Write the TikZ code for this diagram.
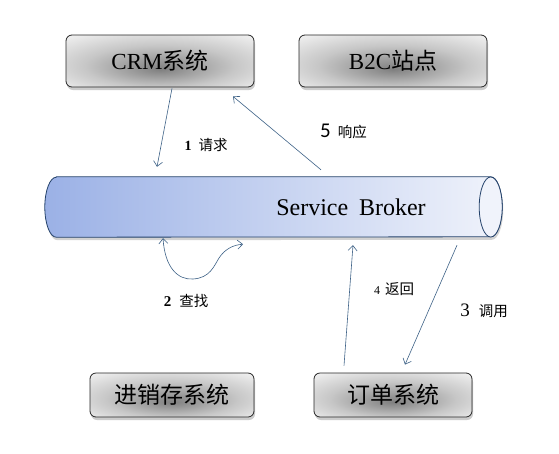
\documentclass[tikz,border=0pt]{standalone}
\usepackage{fontspec}
\setmainfont{Liberation Serif}
\newfontfamily\cjk{Noto Sans CJK SC}
\newfontfamily\numsans{Carlito}
\usetikzlibrary{arrows.meta, shadows}

\definecolor{linkblue}{HTML}{3E6287}
\definecolor{pipeleft}{HTML}{9BB1E6}
\definecolor{piperight}{HTML}{F0F3FB}
\definecolor{pipeedge}{HTML}{24426B}
\colorlet{metaldark}{black!50}
\colorlet{metalmid}{black!22}
\pgfdeclareradialshading{metal}{\pgfpoint{0bp}{-8bp}}{color(0bp)=(metaldark); color(20bp)=(metalmid); color(42bp)=(white); color(50bp)=(white)}

\begin{document}
\begin{tikzpicture}[x=1pt, y=-1pt, >={Straight Barb[length=5pt, width=9pt]},
    sysbox/.style={draw=black!85, line width=0.8pt, rounded corners=6pt, shading=metal,
      drop shadow={shadow xshift=1pt, shadow yshift=-3pt, opacity=0.4},
      font=\fontsize{23}{26}\selectfont},
    link/.style={draw=linkblue, line width=0.6pt},
    steplabel/.style={font=\cjk\fontsize{14.5}{16}\selectfont}]
  \useasboundingbox[fill=white] (0,0) rectangle (559,453);

  % systems
  \node[sysbox, minimum width=188pt, minimum height=52pt] (crm) at (160,61) {CRM{\cjk 系统}};
  \node[sysbox, minimum width=188pt, minimum height=52pt] (b2c) at (393,61) {B2C{\cjk 站点}};
  \node[sysbox, minimum width=164pt, minimum height=44pt] (stock) at (172,395) {{\cjk 进销存系统}};
  \node[sysbox, minimum width=158pt, minimum height=44pt] (order) at (393,395) {{\cjk 订单系统}};

  % broker pipe
  \node[minimum width=457pt, minimum height=60pt, inner sep=0pt] (broker) at (273.5,207) {};
  \path[draw=pipeedge, line width=0.8pt, left color=pipeleft, right color=piperight,
    drop shadow={shadow xshift=1pt, shadow yshift=-3pt, opacity=0.35}]
    ([xshift=11.5pt]broker.north west) -- ([xshift=-11.5pt]broker.north east)
    arc[start angle=90, end angle=-90, x radius=11.5pt, y radius=30pt]
    -- ([xshift=11.5pt]broker.south west)
    arc[start angle=270, end angle=90, x radius=11.5pt, y radius=30pt] -- cycle;
  \draw[pipeedge, line width=0.8pt, fill=piperight] ([xshift=-11.5pt]broker.east)
    ellipse[x radius=11.5pt, y radius=30pt];
  \node[font=\fontsize{24}{28}\selectfont] (brokertext) at (351,207) {Service\hspace{0.45em}Broker};

  % calls
  \draw[link, ->] ([xshift=12pt, yshift=-1pt]crm.south) -- ([xshift=-116.5pt, yshift=10pt]broker.north);
  \draw[link, ->] ([xshift=47.5pt, yshift=7pt]broker.north) -- ([xshift=73pt, yshift=-9pt]crm.south);
  \draw[link, <->] ([xshift=-110.5pt, yshift=-1pt]broker.south)
    .. controls (165,268) and (178,280) .. (193,279)
    .. controls (210,278) and (214,266) .. (219,258)
    .. controls (225,249) and (233,245) .. ([xshift=-30.5pt, yshift=-7pt]broker.south);
  \draw[link, ->] ([xshift=183.5pt, yshift=-8pt]broker.south) -- ([xshift=12pt, yshift=8pt]order.north);
  \draw[link, ->] ([xshift=-49pt, yshift=7pt]order.north) -- ([xshift=79.5pt, yshift=-8pt]broker.south);

  \node[steplabel] (ask) at (206,145) {{\rmfamily\bfseries\fontsize{14}{16}\selectfont 1}\hspace{7pt}请求};
  \node[steplabel] (reply) at (343.5,131) {{\numsans\fontsize{21}{22}\selectfont 5}\hspace{7pt}响应};
  \node[steplabel] (find) at (186,301) {{\rmfamily\bfseries\fontsize{15}{16}\selectfont 2}\hspace{8pt}查找};
  \node[steplabel] (back) at (394,289) {{\rmfamily\fontsize{12}{14}\selectfont 4}\hspace{5pt}返回};
  \node[steplabel] (invoke) at (484,311) {{\rmfamily\fontsize{19}{20}\selectfont 3}\hspace{9pt}调用};
\end{tikzpicture}
\end{document}
